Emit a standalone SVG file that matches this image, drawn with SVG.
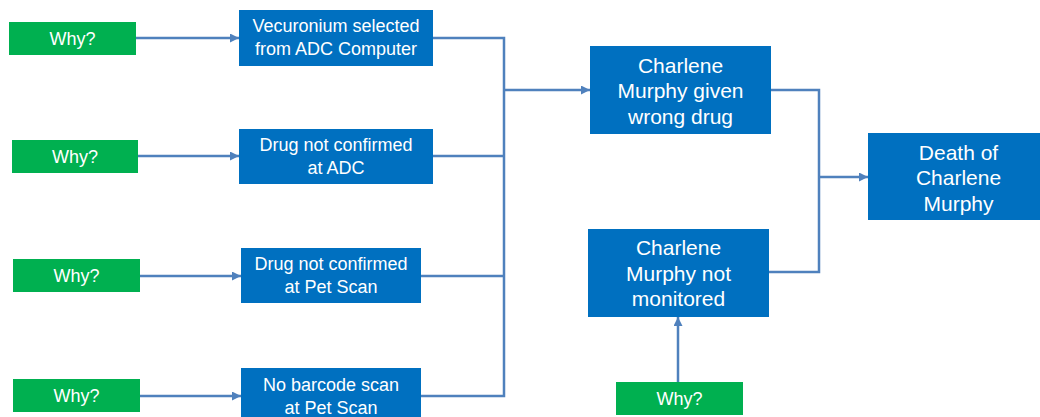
<svg xmlns="http://www.w3.org/2000/svg" width="1040" height="417" viewBox="0 0 1040 417">
<style>
.blue{fill:#0070C0}
.green{fill:#00B050}
text{fill:#FFFFFF;font-family:"Liberation Sans",Arial,sans-serif;text-anchor:middle}
.s{font-size:18px}
.l{font-size:21px}
.c{fill:none;stroke:#4F81BD;stroke-width:2.5}
</style>
<defs>
<marker id="ah" viewBox="0 0 10 10" refX="10" refY="5" markerWidth="3.6" markerHeight="3.6" orient="auto" markerUnits="strokeWidth">
<path d="M0,0 L10,5 L0,10 z" fill="#4F81BD"/>
</marker>
</defs>
<rect width="1040" height="417" fill="#FFFFFF"/>
<g id="connectors">
<path class="c" d="M136,38 H239" marker-end="url(#ah)"/>
<path class="c" d="M138,156 H239" marker-end="url(#ah)"/>
<path class="c" d="M140,276 H241" marker-end="url(#ah)"/>
<path class="c" d="M140,396 H241" marker-end="url(#ah)"/>
<path class="c" d="M433,38 H504 V396 H421"/>
<path class="c" d="M433,156 H504"/>
<path class="c" d="M421,276 H504"/>
<path class="c" d="M504,90 H590" marker-end="url(#ah)"/>
<path class="c" d="M771,90 H819 V272 H769"/>
<path class="c" d="M819,177 H868" marker-end="url(#ah)"/>
<path class="c" d="M678,382 V317" marker-end="url(#ah)"/>
</g>
<g id="why1"><rect class="green" x="9" y="22" width="127" height="33"/><text class="s" x="72.5" y="45">Why?</text></g>
<g id="why2"><rect class="green" x="12" y="140" width="126" height="33"/><text class="s" x="75" y="163">Why?</text></g>
<g id="why3"><rect class="green" x="13" y="259" width="127" height="33"/><text class="s" x="76.5" y="282">Why?</text></g>
<g id="why4"><rect class="green" x="13" y="379" width="127" height="33"/><text class="s" x="76.5" y="402">Why?</text></g>
<g id="why5"><rect class="green" x="616" y="382" width="127" height="33"/><text class="s" x="679.5" y="405">Why?</text></g>
<g id="vecuronium"><rect class="blue" x="239" y="10" width="194" height="56"/><text class="s" x="336" y="32">Vecuronium selected</text><text class="s" x="336" y="55">from ADC Computer</text></g>
<g id="notconfirmedADC"><rect class="blue" x="239" y="129" width="194" height="55"/><text class="s" x="336" y="151">Drug not confirmed</text><text class="s" x="336" y="174">at ADC</text></g>
<g id="notconfirmedPet"><rect class="blue" x="241" y="248" width="180" height="55"/><text class="s" x="331" y="270">Drug not confirmed</text><text class="s" x="331" y="293">at Pet Scan</text></g>
<g id="nobarcode"><rect class="blue" x="241" y="368" width="180" height="55"/><text class="s" x="331" y="391">No barcode scan</text><text class="s" x="331" y="414">at Pet Scan</text></g>
<g id="wrongdrug"><rect class="blue" x="590" y="46" width="181" height="88"/><text class="l" x="680.5" y="73">Charlene</text><text class="l" x="680.5" y="98">Murphy given</text><text class="l" x="680.5" y="124">wrong drug</text></g>
<g id="notmonitored"><rect class="blue" x="588" y="229" width="181" height="88"/><text class="l" x="678.5" y="255">Charlene</text><text class="l" x="678.5" y="281">Murphy not</text><text class="l" x="678.5" y="306">monitored</text></g>
<g id="death"><rect class="blue" x="868" y="133" width="181" height="87"/><text class="l" x="958.5" y="160">Death of</text><text class="l" x="958.5" y="185">Charlene</text><text class="l" x="958.5" y="211">Murphy</text></g>
</svg>
